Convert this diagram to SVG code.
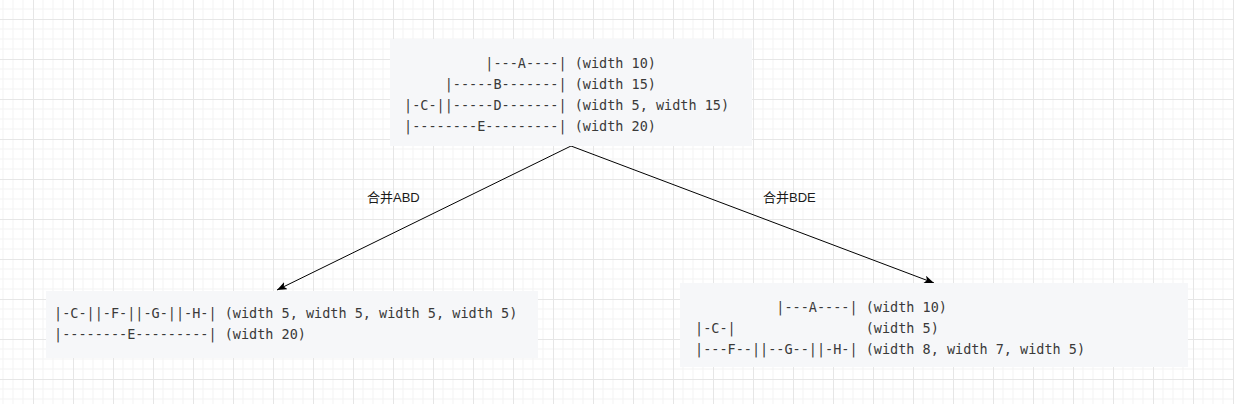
<svg xmlns="http://www.w3.org/2000/svg" width="1234" height="404" viewBox="0 0 1234 404">
  <style>
    .box { fill: #f6f7f9; stroke: none; }
    .code { font-family: "DejaVu Sans Mono", "Liberation Mono", monospace; font-size: 13.5px; fill: #3a3a3a; white-space: pre; }
    .lbl { font-family: "Liberation Sans", "Noto Sans CJK SC", sans-serif; font-size: 13px; fill: #1a1a1a; }
    .edge { stroke: #000000; stroke-width: 1; fill: none; }
  </style>
  <defs>
    <pattern id="grid" x="33" y="19" width="40" height="40" patternUnits="userSpaceOnUse">
      <path d="M10 0V40M20 0V40M30 0V40M0 10H40M0 20H40M0 30H40" stroke="#f3f3f3" stroke-width="1" fill="none"/>
      <path d="M0.5 0V40M0 0.5H40" stroke="#e6e6e6" stroke-width="1" fill="none"/>
    </pattern>
    <marker id="arrow" markerUnits="userSpaceOnUse" markerWidth="12" markerHeight="10" refX="10" refY="4" orient="auto">
      <path d="M0 0 L10 4 L0 8 L2.5 4 Z" fill="#000000"/>
    </marker>
  </defs>
  <rect width="1234" height="404" fill="#ffffff"/>
  <rect width="1234" height="404" fill="url(#grid)"/>

  <g id="connectors">
    <g id="edge-abd">
      <line class="edge" x1="571" y1="146" x2="277" y2="290" marker-end="url(#arrow)"/>
      <text class="lbl" x="367" y="202">合并ABD</text>
    </g>
    <g id="edge-bde">
      <line class="edge" x1="571" y1="146" x2="934" y2="283" marker-end="url(#arrow)"/>
      <text class="lbl" x="763" y="202">合并BDE</text>
    </g>
  </g>

  <g id="node-top">
    <rect class="box" x="390" y="39" width="362" height="107"/>
    <text class="code" xml:space="preserve" x="404" y="68">          |---A----| (width 10)</text>
    <text class="code" xml:space="preserve" x="404" y="89">     |-----B-------| (width 15)</text>
    <text class="code" xml:space="preserve" x="404" y="110">|-C-||-----D-------| (width 5, width 15)</text>
    <text class="code" xml:space="preserve" x="404" y="131">|--------E---------| (width 20)</text>
  </g>

  <g id="node-left">
    <rect class="box" x="46" y="291" width="492" height="67"/>
    <text class="code" xml:space="preserve" x="54" y="318">|-C-||-F-||-G-||-H-| (width 5, width 5, width 5, width 5)</text>
    <text class="code" xml:space="preserve" x="54" y="339">|--------E---------| (width 20)</text>
  </g>

  <g id="node-right">
    <rect class="box" x="680" y="283" width="508" height="84"/>
    <text class="code" xml:space="preserve" x="695" y="312">          |---A----| (width 10)</text>
    <text class="code" xml:space="preserve" x="695" y="333">|-C-|                (width 5)</text>
    <text class="code" xml:space="preserve" x="695" y="354">|---F--||--G--||-H-| (width 8, width 7, width 5)</text>
  </g>
</svg>
